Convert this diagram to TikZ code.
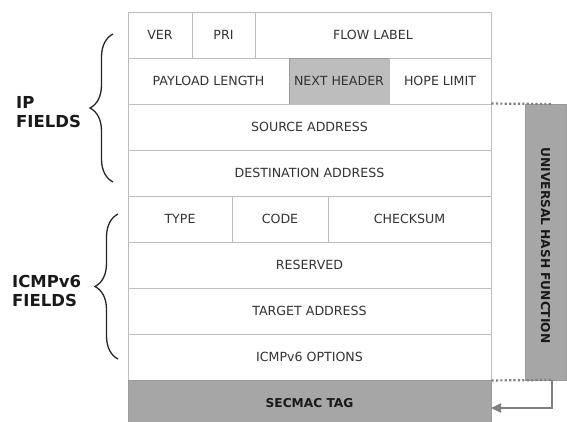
\documentclass[tikz,border=0pt]{standalone}
\usepackage{fontspec}
\setmainfont{DejaVu Sans}
\usetikzlibrary{decorations.pathreplacing,arrows.meta}
\definecolor{gridline}{HTML}{BDBDBD}
\definecolor{celltext}{HTML}{333333}
\definecolor{headfill}{HTML}{BDBDBD}
\definecolor{tagfill}{HTML}{A6A6A6}
\definecolor{darkedge}{HTML}{9A9A9A}
\definecolor{linkgray}{HTML}{808080}
\tikzset{
  field/.style={draw=gridline, line width=0.9pt, minimum height=46pt, inner sep=0pt,
    text=celltext, font=\fontsize{12.6}{14}\selectfont},
  shaded/.style={field, fill=headfill, draw=darkedge},
  tagbox/.style={draw=darkedge, fill=tagfill, line width=0.9pt, inner sep=0pt,
    text=black!90, font=\fontsize{12.2}{14}\selectfont\bfseries},
  groupbrace/.style={decorate, decoration={brace, amplitude=23pt}, line width=1.3pt, draw=black!85},
  grouplabel/.style={anchor=west, align=left, inner sep=0pt, text=black!90,
    font=\fontsize{16.5}{19}\selectfont\bfseries},
  dotlink/.style={draw=linkgray, line width=2.2pt, dash pattern=on 2.2pt off 2.2pt},
  arrowlink/.style={draw=linkgray, line width=1.8pt, -{Triangle[length=10pt,width=9pt]}},
}
\begin{document}
\begin{tikzpicture}[x=1pt, y=-1pt]
\useasboundingbox (0,0) rectangle (567,421);
\fill[white] (0,0) rectangle (567,421);

% IPv6 header
\node[field, minimum width=64pt]  (ver)   at (160,35)    {VER};
\node[field, minimum width=63pt]  (pri)   at (223.5,35)  {PRI};
\node[field, minimum width=236pt] (flow)  at (373,35)    {FLOW LABEL};
\node[field, minimum width=161pt] (plen)  at (208.5,81)  {PAYLOAD LENGTH};
\node[shaded, minimum width=100pt] (nxt)  at (339,81)    {NEXT HEADER};
\node[field, minimum width=102pt] (hop)   at (440,81)    {HOPE LIMIT};
\node[field, minimum width=363pt] (src)   at (309.5,127) {SOURCE ADDRESS};
\node[field, minimum width=363pt] (dst)   at (309.5,173) {DESTINATION ADDRESS};

% ICMPv6 message
\node[field, minimum width=104pt] (type)  at (180,219)   {TYPE};
\node[field, minimum width=96pt]  (code)  at (280,219)   {CODE};
\node[field, minimum width=163pt] (csum)  at (409.5,219) {CHECKSUM};
\node[field, minimum width=363pt] (resv)  at (309.5,265) {RESERVED};
\node[field, minimum width=363pt] (targ)  at (309.5,311) {TARGET ADDRESS};
\node[field, minimum width=363pt] (opts)  at (309.5,357) {ICMPv6 OPTIONS};

% MAC tag
\node[tagbox, minimum width=363pt, minimum height=46pt, text height=8.8pt, text depth=0pt]
  (tag) at (309.5,403) {SECMAC TAG};

% hash function block
\node[tagbox, rotate=-90, minimum width=276pt, minimum height=41pt] (hash) at (545.5,242)
  {\hspace*{7pt}UNIVERSAL HASH FUNCTION};

% group braces and their labels
\coordinate (ipTop) at (113,34);
\coordinate (ipBot) at (113,182);
\coordinate (icTop) at (118,214);
\coordinate (icBot) at (118,359);
\draw[groupbrace] (ipBot) -- (ipTop);
\draw[groupbrace] (icBot) -- (icTop);
\node[grouplabel] (iplabel) at (16,112.5) {IP\\FIELDS};
\node[grouplabel] (iclabel) at (12,291)   {ICMPv6\\FIELDS};

% links to and from the hash block
\coordinate (hashTopEnd) at (552,104);
\coordinate (hashFoot)   at (552,380);
\coordinate (tagIn)      at (491,408);
\draw[dotlink] (src.north east) -- (hashTopEnd);
\draw[dotlink] (opts.south east) -- (hashFoot);
\draw[arrowlink] (hashFoot) |- (tagIn);
\end{tikzpicture}
\end{document}
